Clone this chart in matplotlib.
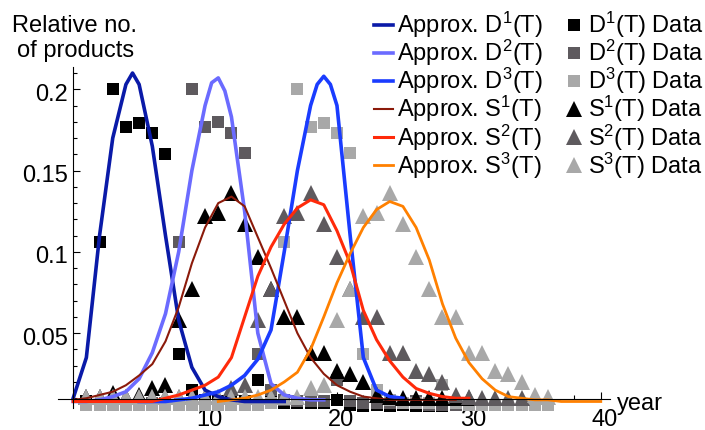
import numpy as np
import matplotlib.pyplot as plt
import matplotlib.transforms as mtransforms
from matplotlib.ticker import MultipleLocator, FixedLocator, FuncFormatter

plt.rcParams['font.family'] = ['Liberation Sans', 'DejaVu Sans']
plt.rcParams['mathtext.default'] = 'regular'
plt.rcParams['font.size'] = 17

# approximation curves (year, value)
t_D1 = [0, 1, 2, 3, 4, 4.5, 5, 6, 7, 8, 9, 10, 11, 12, 13, 14, 15, 16]
fit_D1 = [0.010, 0.035, 0.110, 0.170, 0.203, 0.210, 0.203, 0.165, 0.110, 0.058,
          0.029, 0.015, 0.011, 0.009, 0.008, 0.008, 0.008, 0.008]
t_D2 = [0, 1, 2, 3, 4, 5, 6, 7, 8, 9, 10, 10.5, 11, 11.5, 12, 13, 14, 15, 16,
        17, 18, 19]
fit_D2 = [0.008, 0.008, 0.009, 0.011, 0.014, 0.022, 0.038, 0.062, 0.100, 0.150,
          0.190, 0.204, 0.207, 0.199, 0.183, 0.125, 0.050, 0.019, 0.012, 0.010,
          0.009, 0.009]
t_D3 = [5, 6, 7, 8, 9, 10, 11, 12, 13, 14, 15, 16, 17, 18, 18.5, 19, 19.5, 20,
        21, 22, 23, 24, 25]
fit_D3 = [0.008, 0.008, 0.008, 0.009, 0.010, 0.012, 0.014, 0.018, 0.024, 0.034,
          0.052, 0.100, 0.150, 0.190, 0.203, 0.208, 0.203, 0.190, 0.110, 0.035,
          0.015, 0.011, 0.010]
t_S1 = np.arange(0, 30)
fit_S1 = [0.009, 0.010, 0.012, 0.014, 0.018, 0.024, 0.031, 0.045, 0.066, 0.093,
          0.115, 0.130, 0.134, 0.128, 0.109, 0.090, 0.070, 0.050, 0.035, 0.025,
          0.018, 0.014, 0.011, 0.010, 0.009, 0.009, 0.009, 0.009, 0.009, 0.009]
t_S2 = np.arange(0, 31)
fit_S2 = [0.008, 0.008, 0.008, 0.008, 0.008, 0.008, 0.008, 0.010, 0.012, 0.015,
          0.018, 0.023, 0.035, 0.060, 0.085, 0.103, 0.117, 0.127, 0.132, 0.129,
          0.113, 0.093, 0.064, 0.046, 0.033, 0.023, 0.016, 0.013, 0.011, 0.010, 0.010]
t_S3 = np.arange(11, 41)
fit_S3 = [0.008, 0.009, 0.010, 0.012, 0.015, 0.020, 0.026, 0.040, 0.060, 0.081,
          0.099, 0.115, 0.126, 0.131, 0.128, 0.115, 0.095, 0.068, 0.047, 0.032,
          0.022, 0.015, 0.011, 0.010, 0.009, 0.009, 0.008, 0.008, 0.008, 0.008]

# observed data
yr_D1 = np.arange(1, 29)
obs_D1 = [0.008, 0.106, 0.200, 0.177, 0.179, 0.173, 0.160, 0.037, 0.015, 0.009,
          0.008, 0.008, 0.008, 0.021, 0.008, 0.007, 0.007, 0.007, 0.007, 0.009,
          0.006, 0.005, 0.006, 0.005, 0.006, 0.005, 0.005, 0.005]
yr_D2 = np.arange(1, 34)
obs_D2 = [0.006, 0.006, 0.006, 0.006, 0.006, 0.007, 0.007, 0.106, 0.200, 0.177,
          0.180, 0.173, 0.161, 0.037, 0.015, 0.009, 0.008, 0.008, 0.008, 0.021,
          0.008, 0.007, 0.007, 0.007, 0.007, 0.008, 0.006, 0.006, 0.006, 0.006,
          0.006, 0.006, 0.006]
yr_D3 = np.arange(1, 37)
obs_D3 = [0.006, 0.006, 0.006, 0.006, 0.006, 0.006, 0.006, 0.006, 0.006, 0.006,
          0.006, 0.006, 0.006, 0.006, 0.007, 0.106, 0.200, 0.177, 0.179, 0.173,
          0.161, 0.037, 0.015, 0.009, 0.007, 0.007, 0.007, 0.018, 0.007, 0.006,
          0.006, 0.006, 0.006, 0.006, 0.006, 0.006]
yr_S1 = np.arange(1, 31)
obs_S1 = [0.011, 0.011, 0.013, 0.011, 0.012, 0.016, 0.018, 0.058, 0.077, 0.122,
          0.124, 0.136, 0.117, 0.097, 0.077, 0.060, 0.060, 0.038, 0.038, 0.027,
          0.025, 0.020, 0.012, 0.011, 0.010, 0.010, 0.010, 0.010, 0.010, 0.010]
yr_S2 = np.arange(1, 35)
obs_S2 = [0.011, 0.011, 0.011, 0.011, 0.011, 0.011, 0.011, 0.011, 0.011, 0.011,
          0.011, 0.016, 0.018, 0.058, 0.077, 0.122, 0.124, 0.136, 0.117, 0.097,
          0.077, 0.060, 0.060, 0.038, 0.038, 0.027, 0.025, 0.020, 0.012, 0.011,
          0.010, 0.010, 0.010, 0.010]
yr_S3 = np.arange(1, 37)
obs_S3 = [0.011, 0.011, 0.011, 0.011, 0.011, 0.011, 0.011, 0.011, 0.011, 0.011,
          0.011, 0.011, 0.011, 0.011, 0.011, 0.011, 0.011, 0.016, 0.018, 0.058,
          0.077, 0.122, 0.124, 0.136, 0.117, 0.097, 0.077, 0.060, 0.060, 0.038,
          0.038, 0.027, 0.025, 0.020, 0.012, 0.011]

fig = plt.figure(figsize=(7.05, 4.30), dpi=100)
ax = fig.add_axes([58 / 705, 22 / 430, 552 / 705, 341 / 430])

black, dgray, lgray = '#000000', '#5e5a5e', '#a8a8a8'

# data markers first, curves drawn over them
h_data = []
for t, v, m, c, ms, n, s in [
        (yr_D1, obs_D1, 's', black, 8.5, '1', 'D'),
        (yr_D2, obs_D2, 's', dgray, 8.5, '2', 'D'),
        (yr_D3, obs_D3, 's', lgray, 8.5, '3', 'D'),
        (yr_S1, obs_S1, '^', black, 11, '1', 'S'),
        (yr_S2, obs_S2, '^', dgray, 11, '2', 'S'),
        (yr_S3, obs_S3, '^', lgray, 11, '3', 'S')]:
    h, = ax.plot(t, v, ls='none', marker=m, ms=ms, color=c, mew=0,
                 label=s + '$^' + n + '$(T) Data', clip_on=False)
    h_data.append(h)

h_fit = []
for t, v, c, lw, n, s in [
        (t_D1, fit_D1, '#0a1aa8', 2.6, '1', 'D'),
        (t_D2, fit_D2, '#6b6bff', 2.6, '2', 'D'),
        (t_D3, fit_D3, '#1a3cff', 2.6, '3', 'D'),
        (t_S1, fit_S1, '#8b1a0a', 1.5, '1', 'S'),
        (t_S2, fit_S2, '#ff2a0a', 2.2, '2', 'S'),
        (t_S3, fit_S3, '#ff8000', 2.0, '3', 'S')]:
    h, = ax.plot(t, v, color=c, lw=lw, label='Approx. ' + s + '$^' + n + '$(T)',
                 solid_joinstyle='round')
    h_fit.append(h)

ax.set_xlim(-1.15, 40.7)
ax.set_ylim(0.004, 0.2137)
for side in ['top', 'right']:
    ax.spines[side].set_visible(False)
ax.spines['left'].set_position(('data', 0))
ax.spines['bottom'].set_position(('data', 0.0095))
ax.patch.set_visible(False)

ax.xaxis.set_major_locator(FixedLocator([10, 20, 30, 40]))
ax.xaxis.set_minor_locator(MultipleLocator(2))
ax.yaxis.set_major_locator(FixedLocator([0.05, 0.1, 0.15, 0.2]))
ax.yaxis.set_minor_locator(MultipleLocator(0.01))
fmt = FuncFormatter(lambda v, p: f'{v:g}')
ax.xaxis.set_major_formatter(fmt)
ax.yaxis.set_major_formatter(fmt)
ax.tick_params(which='both', direction='in', width=0.8, labelsize=17)
ax.tick_params(which='major', length=5)
ax.tick_params(which='minor', length=3)
ax.tick_params(axis='x', pad=7.5)
ax.tick_params(axis='y', pad=4)

# small nudges like the original labels
dx = mtransforms.ScaledTranslation(4 / 100, 0, fig.dpi_scale_trans)
dy = mtransforms.ScaledTranslation(0, -3 / 100, fig.dpi_scale_trans)
for lbl in ax.get_xticklabels():
    lbl.set_transform(lbl.get_transform() + dx)
for lbl in ax.get_yticklabels():
    lbl.set_transform(lbl.get_transform() + dy)

fig.text(75 / 705, 1 - 32 / 430, 'Relative no.', ha='center', va='baseline')
fig.text(76 / 705, 1 - 57 / 430, 'of products', ha='center', va='baseline')
fig.text(617 / 705, 1 - 410 / 430, 'year', ha='left', va='baseline')

fig.legend(h_fit + h_data, [h.get_label() for h in h_fit + h_data], ncol=2,
           loc='upper right', bbox_to_anchor=(704 / 705, 1 - 10 / 430),
           frameon=False, handlelength=0.8, handletextpad=0.2,
           columnspacing=0.9, labelspacing=-0.09, borderpad=0,
           borderaxespad=0, numpoints=1, fontsize=17)

fig.savefig('out.png', dpi=100)
